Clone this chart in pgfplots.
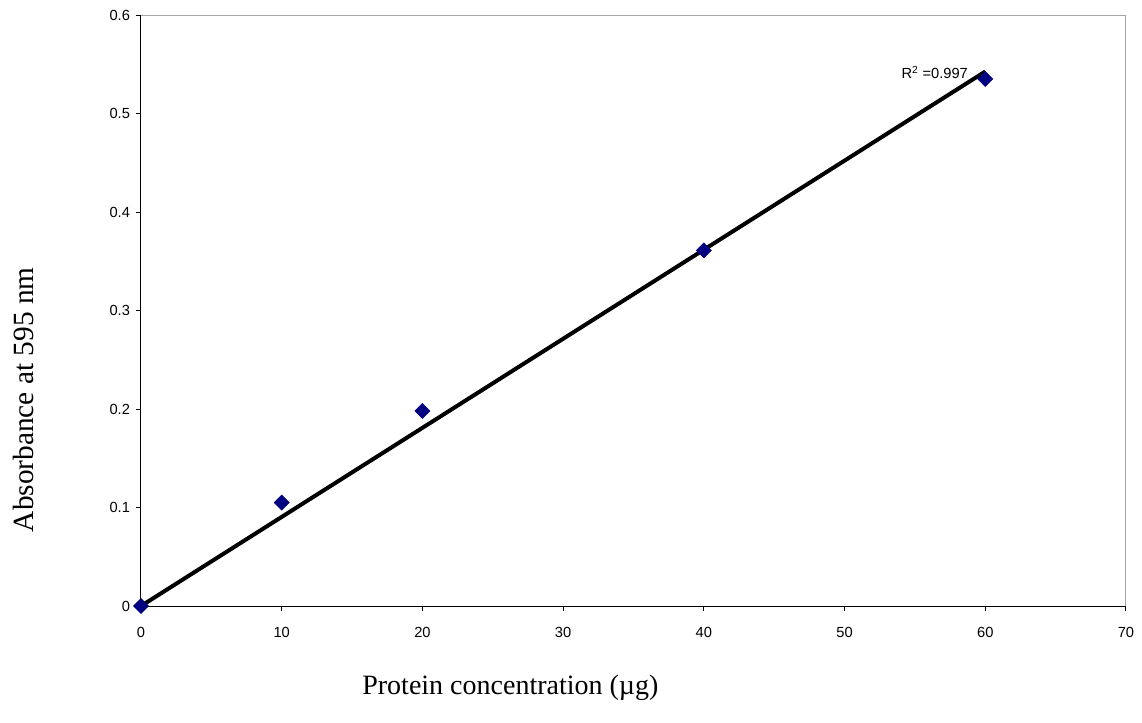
\documentclass[border=0pt]{standalone}
\usepackage{fontspec}
\setmainfont{Liberation Sans}
\newfontfamily\timesfont{Liberation Serif}
\usepackage{pgfplots}
\pgfplotsset{compat=1.18}
\definecolor{navy}{RGB}{0,0,128}
\begin{document}
\begin{tikzpicture}
\begin{axis}[
  at={(0,0)}, anchor=south west,
  scale only axis,
  width=738.75pt, height=443.25pt,
  xmin=0, xmax=70, ymin=0, ymax=0.6,
  xtick={0,10,...,70},
  ytick={0,0.1,...,0.6},
  tick align=outside,
  major tick length=3.75pt,
  tick style={black, line width=0.75pt},
  axis line style={line width=0.75pt},
  tick label style={font=\fontsize{11}{13}\selectfont},
  /pgf/number format/assume math mode=true,
  yticklabel style={/pgf/number format/fixed, /pgf/number format/precision=1, xshift=-1pt},
  xticklabel style={yshift=-9pt},
  xtick pos=bottom, ytick pos=left,
  xlabel={\timesfont\fontsize{21}{24}\selectfont Protein concentration (µg)},
  ylabel={\timesfont\fontsize{22}{25}\selectfont Absorbance at 595 nm},
  xlabel style={at={(axis description cs:0.375,-0.139)}, anchor=center},
  ylabel style={at={(axis description cs:-0.119,0.349)}, anchor=center},
  clip=false,
]
\addplot[black, line width=3pt, no marks] coordinates {(0,0) (60,0.5426)}
  node[pos=1, anchor=base east, xshift=-8.25pt, yshift=-5.25pt, font=\fontsize{11}{13}\selectfont] {R\textsuperscript{2} =0.997};
\addplot[only marks, mark=square*, mark size=4pt, mark options={rotate=45}, color=navy] coordinates {
 (0,0) (10,0.105) (20,0.198) (40,0.361) (60,0.535)};
\draw[gray!70, line width=0.75pt] (rel axis cs:0,1) -- (rel axis cs:1,1) -- (rel axis cs:1,0);
\end{axis}
\pgfresetboundingbox
\path (-105.75pt,-87pt) rectangle (750.75pt,454.5pt);
\end{tikzpicture}
\end{document}
